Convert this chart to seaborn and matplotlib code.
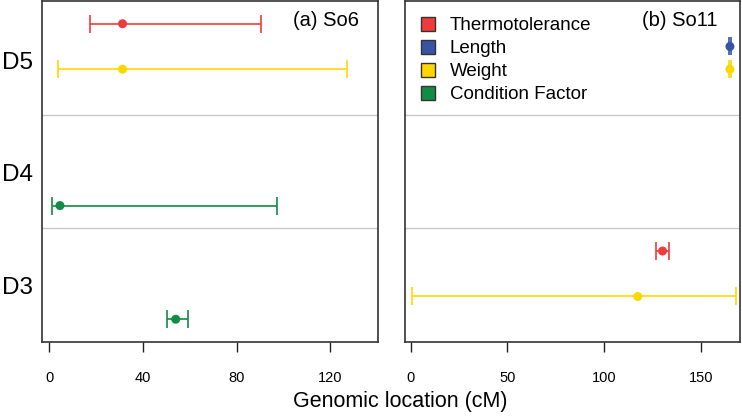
import seaborn as sns
import matplotlib.pyplot as plt
import pandas as pd
from matplotlib.patches import Patch

# traits and colours
traits = ["Thermotolerance", "Length", "Weight", "Condition Factor"]
trait_colors = ["#EE3B3B", "#3953A4", "#FFD700", "#118C45"]
trait_offset = [0.2, 0.4, 0.6, 0.8]  # position of each trait inside a chromosome row

rows = ["D5", "D4", "D3"]

# (a) So6
so6_chrom = ["D5", "D5", "D4", "D3"]
so6_trait = ["Thermotolerance", "Weight", "Condition Factor", "Condition Factor"]
so6_pos = [31.3, 31.3, 4.6, 54.0]
so6_lo = [17.5, 3.7, 1.4, 50.1]
so6_hi = [90.5, 127.1, 97.2, 59.1]

# (b) So11
so11_chrom = ["D5", "D5", "D3", "D3"]
so11_trait = ["Length", "Weight", "Thermotolerance", "Weight"]
so11_pos = [164.9, 164.9, 130.1, 117.3]
so11_lo = [164.5, 164.5, 126.5, 0.5]
so11_hi = [165.3, 165.3, 133.3, 167.9]


def make_df(chrom, trait, pos, lo, hi):
    df = pd.DataFrame({"chrom": chrom, "trait": trait, "pos": pos, "lo": lo, "hi": hi})
    df["y"] = [rows.index(c) + trait_offset[traits.index(t)] for c, t in zip(chrom, trait)]
    return df


sns.set_style("white")
plt.rcParams['font.family'] = ['Liberation Sans', 'DejaVu Sans']
plt.rcParams['text.color'] = 'black'
plt.rcParams['xtick.labelcolor'] = 'black'
plt.rcParams['ytick.labelcolor'] = 'black'

pal = dict(zip(traits, trait_colors))

fig = plt.figure(figsize=(7.42, 4.16), dpi=100)
ax1 = fig.add_axes([0.0562, 0.178, 0.4528, 0.8196])
ax2 = fig.add_axes([0.5454, 0.178, 0.4519, 0.8196], sharey=ax1)

panels = [
    (ax1, make_df(so6_chrom, so6_trait, so6_pos, so6_lo, so6_hi), "(a) So6",
     (-3.2, 140.2), [0, 40, 80, 120], 0.944),
    (ax2, make_df(so11_chrom, so11_trait, so11_pos, so11_lo, so11_hi), "(b) So11",
     (-3.1, 170.1), [0, 50, 100, 150], 0.934),
]

for ax, df, title, xlim, xticks, tx in panels:
    for _, r in df.iterrows():
        ax.errorbar(r["pos"], r["y"], xerr=[[r["pos"] - r["lo"]], [r["hi"] - r["pos"]]],
                    fmt="none", ecolor=pal[r["trait"]], elinewidth=1.2,
                    capsize=6.5, capthick=1.2, zorder=2)
    sns.scatterplot(data=df, x="pos", y="y", hue="trait", palette=pal, s=42,
                    edgecolor="none", legend=False, ax=ax, zorder=3)
    for b in [1, 2]:
        ax.axhline(b, color="#c8c8c8", lw=1.0, zorder=1)
    ax.set_xlim(*xlim)
    ax.set_xticks(xticks)
    ax.set_xlabel("")
    ax.set_ylabel("")
    ax.tick_params(axis="x", direction="out", length=7, width=1.0, pad=14,
                   labelsize=10.5, color="#222222", labelcolor="black", bottom=True)
    for s in ax.spines.values():
        s.set_color("#333333")
        s.set_linewidth(1.2)
    ax.text(tx, 0.944, title, transform=ax.transAxes, ha="right", va="center",
            fontsize=14.5, color="black")

ax1.set_ylim(3, 0)
ax1.set_yticks([0.52, 1.51, 2.5])
ax1.set_yticklabels(rows)
ax1.tick_params(axis="y", length=0, pad=6, labelsize=17.5, labelcolor="black")
ax2.tick_params(axis="y", left=False, labelleft=False)

handles = [Patch(facecolor=c, edgecolor="#333333", linewidth=1.0, label=t)
           for t, c in zip(traits, trait_colors)]
leg = ax2.legend(handles=handles, loc="upper left", bbox_to_anchor=(0.0, 1.0), frameon=False,
                 fontsize=13.5, handlelength=0.75, handleheight=0.75, handletextpad=0.8,
                 labelspacing=0.3, borderaxespad=0.45)
for t in leg.get_texts():
    t.set_color("black")

fig.text(0.54, 0.034, "Genomic location (cM)", ha="center", va="center",
         fontsize=15.5, color="black")

plt.savefig("out.png", dpi=100)
